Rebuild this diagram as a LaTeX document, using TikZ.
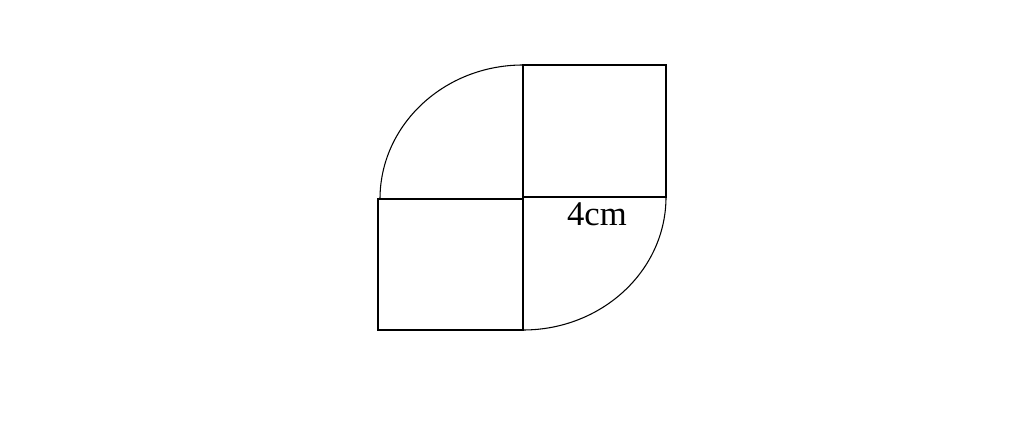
\documentclass[tikz,border=0pt]{standalone}
\usepackage{fontspec}
\setmainfont{Liberation Serif}
\begin{document}
\begin{tikzpicture}[x=0.75pt,y=0.75pt,yscale=-1,xscale=1]
%set diagram left start at 0, and has height of 427
\useasboundingbox (0,0) rectangle (1024,427);
%Shape: Rectangle [id:top right square]
\draw [line width=1pt]  (523,65) -- (666,65) -- (666,197) -- (523,197) -- cycle ;
%Shape: Rectangle [id:bottom left square]
\draw [line width=1pt]  (378,199) -- (523,199) -- (523,330) -- (378,330) -- cycle ;
%Shape: Arc [id:top left quarter]
\draw [line width=0.8pt]  (380,199) .. controls (380,125) and (444,65) .. (523,65) ;
%Shape: Arc [id:bottom right quarter]
\draw [line width=0.8pt]  (666,197) .. controls (666,270.5) and (602,330) .. (523,330) ;
% Text Node
\draw (597,214) node [inner sep=0.75pt]  {\fontsize{26}{30}\selectfont 4cm};
\end{tikzpicture}
\end{document}
